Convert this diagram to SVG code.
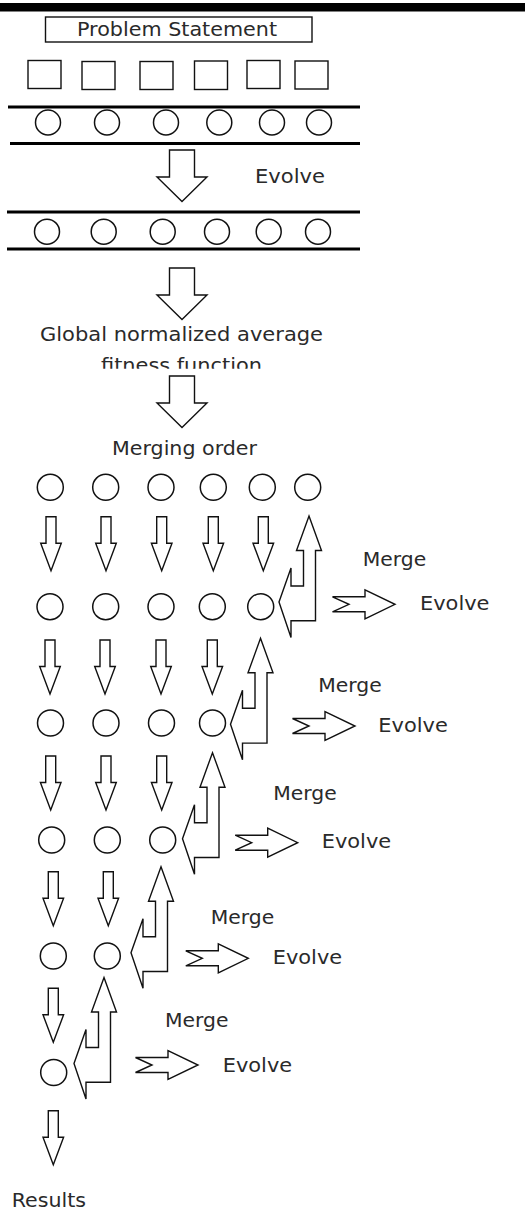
<svg xmlns="http://www.w3.org/2000/svg" xmlns:xlink="http://www.w3.org/1999/xlink" width="525" height="1210" viewBox="0 0 525 1210">
  <style>
    .t { font-family: "DejaVu Sans", "Liberation Sans", sans-serif; font-size: 19px; fill: #2a2a2a; }
    .o { fill: #fff; stroke: #111; stroke-width: 1.4; stroke-linejoin: miter; }
    .c { fill: #fff; stroke: #111; stroke-width: 1.5; }
    .band { stroke: #000; stroke-width: 3; }
  </style>
  <defs>
    <!-- small downward arrow, origin at top centre of the shaft -->
    <path id="dn" class="o" d="M-5,0 H5 V26.5 H10.3 L0,54 L-10.3,26.5 H-5 Z"/>
    <!-- large downward arrow, origin at top centre of the shaft -->
    <path id="big" class="o" d="M-12.5,0 H12.5 V27 H25 L0,51.5 L-25,27 H-12.5 Z"/>
    <!-- merge arrow: up arrow turning into a left-pointing head, origin at the upper tip -->
    <path id="mrg" class="o" d="M0,0 L12.5,34.5 H6.5 V104.8 H-18 V121.5 L-30,86 L-18,52 V70 H-5.5 V34.5 H-12.5 Z"/>
    <!-- notched right arrow, origin at the tip -->
    <path id="evo" class="o" d="M-62.5,-7.5 H-30 V-14.5 L0,0 L-30,14.5 V7.5 H-62.5 L-46,0 Z"/>
    <clipPath id="cutline">
      <rect x="0" y="345" width="525" height="23.8"/>
    </clipPath>
  </defs>

  <rect width="525" height="1210" fill="#fff"/>

  <!-- header bar -->
  <rect id="topbar" x="0" y="3" width="525" height="8.5" fill="#000"/>

  <g id="problem">
    <rect x="45.5" y="17" width="266.5" height="25" fill="none" stroke="#111" stroke-width="1.4"/>
    <text class="t" x="77" y="36" textLength="200" lengthAdjust="spacingAndGlyphs">Problem Statement</text>
  </g>

  <g id="subproblems" fill="none" stroke="#111" stroke-width="1.4">
    <rect x="28" y="60.5" width="33" height="28"/>
    <rect x="82" y="61.5" width="33" height="28"/>
    <rect x="140" y="61.5" width="33" height="28"/>
    <rect x="194.5" y="61" width="33" height="28.5"/>
    <rect x="247" y="60.5" width="33" height="28"/>
    <rect x="295" y="61" width="33" height="28"/>
  </g>

  <g id="population1">
    <line class="band" x1="8" y1="107" x2="360" y2="107"/>
    <line class="band" x1="10" y1="143.5" x2="360" y2="143.5"/>
    <circle class="c" cx="48" cy="122.5" r="12.5"/>
    <circle class="c" cx="107" cy="122.5" r="12.5"/>
    <circle class="c" cx="166" cy="122.5" r="12.5"/>
    <circle class="c" cx="219.3" cy="122.5" r="12.5"/>
    <circle class="c" cx="272" cy="122.5" r="12.5"/>
    <circle class="c" cx="319" cy="122.5" r="12.5"/>
  </g>

  <g id="evolve-label">
    <text class="t" x="255" y="183" textLength="70" lengthAdjust="spacingAndGlyphs">Evolve</text>
  </g>

  <g id="population2">
    <line class="band" x1="7" y1="212" x2="360" y2="212"/>
    <line class="band" x1="7" y1="249" x2="360" y2="249"/>
    <circle class="c" cx="47" cy="231.7" r="12.5"/>
    <circle class="c" cx="103.7" cy="231.7" r="12.5"/>
    <circle class="c" cx="162.7" cy="231.7" r="12.5"/>
    <circle class="c" cx="217" cy="231.7" r="12.5"/>
    <circle class="c" cx="268.7" cy="231.7" r="12.5"/>
    <circle class="c" cx="318" cy="231.7" r="12.5"/>
  </g>

  <g id="fitness">
    <text class="t" x="40" y="341" textLength="283" lengthAdjust="spacingAndGlyphs">Global normalized average</text>
    <text class="t" x="101" y="372" textLength="161" lengthAdjust="spacingAndGlyphs" clip-path="url(#cutline)">fitness function</text>
  </g>

  <g id="merging-order">
    <text class="t" x="112" y="455" textLength="145" lengthAdjust="spacingAndGlyphs">Merging order</text>
  </g>

  <g id="grid">
    <circle class="c" cx="50.3" cy="487.3" r="13"/>
    <circle class="c" cx="105.7" cy="487.3" r="13"/>
    <circle class="c" cx="161" cy="487.3" r="13"/>
    <circle class="c" cx="213.3" cy="487.3" r="13"/>
    <circle class="c" cx="262.3" cy="487.3" r="13"/>
    <circle class="c" cx="307.7" cy="487.3" r="13"/>

    <circle class="c" cx="50" cy="606.7" r="13"/>
    <circle class="c" cx="105.7" cy="606.7" r="13"/>
    <circle class="c" cx="161" cy="606.7" r="13"/>
    <circle class="c" cx="212.3" cy="606.7" r="13"/>
    <circle class="c" cx="260.7" cy="606.7" r="13"/>

    <circle class="c" cx="50.5" cy="723" r="13"/>
    <circle class="c" cx="106" cy="723" r="13"/>
    <circle class="c" cx="161.5" cy="723" r="13"/>
    <circle class="c" cx="212.5" cy="723" r="13"/>

    <circle class="c" cx="51.7" cy="840" r="13"/>
    <circle class="c" cx="107.3" cy="840" r="13"/>
    <circle class="c" cx="162.7" cy="840" r="13"/>

    <circle class="c" cx="53.3" cy="956" r="13"/>
    <circle class="c" cx="107.3" cy="956" r="13"/>

    <circle class="c" cx="53.7" cy="1072.5" r="13"/>
  </g>

  <g id="merge-labels">
    <text class="t" x="362.7" y="565.7" textLength="63.5" lengthAdjust="spacingAndGlyphs">Merge</text>
    <text class="t" x="420" y="610" textLength="69.5" lengthAdjust="spacingAndGlyphs">Evolve</text>
    <text class="t" x="318.3" y="691.7" textLength="63.5" lengthAdjust="spacingAndGlyphs">Merge</text>
    <text class="t" x="378.3" y="731.7" textLength="69.5" lengthAdjust="spacingAndGlyphs">Evolve</text>
    <text class="t" x="273.3" y="800" textLength="63.5" lengthAdjust="spacingAndGlyphs">Merge</text>
    <text class="t" x="321.7" y="848.3" textLength="69.5" lengthAdjust="spacingAndGlyphs">Evolve</text>
    <text class="t" x="210.7" y="924.3" textLength="63.5" lengthAdjust="spacingAndGlyphs">Merge</text>
    <text class="t" x="272.7" y="964" textLength="69.5" lengthAdjust="spacingAndGlyphs">Evolve</text>
    <text class="t" x="165" y="1026.7" textLength="63.5" lengthAdjust="spacingAndGlyphs">Merge</text>
    <text class="t" x="222.7" y="1071.7" textLength="69.5" lengthAdjust="spacingAndGlyphs">Evolve</text>
  </g>

  <g id="results">
    <text class="t" x="11.7" y="1206.7" textLength="74.3" lengthAdjust="spacingAndGlyphs">Results</text>
  </g>

  <g id="connectors">
    <!-- pipeline arrows -->
    <use xlink:href="#big" x="182" y="150"/>
    <use xlink:href="#big" x="182" y="268"/>
    <use xlink:href="#big" x="182" y="376"/>

    <!-- row 0 to row 1 -->
    <use xlink:href="#dn" x="51" y="516.7"/>
    <use xlink:href="#dn" x="106" y="516.7"/>
    <use xlink:href="#dn" x="161.7" y="516.7"/>
    <use xlink:href="#dn" x="213.3" y="516.7"/>
    <use xlink:href="#dn" x="263.3" y="516.7"/>
    <!-- row 1 to row 2 -->
    <use xlink:href="#dn" x="50" y="640"/>
    <use xlink:href="#dn" x="105" y="640"/>
    <use xlink:href="#dn" x="161" y="640"/>
    <use xlink:href="#dn" x="212.3" y="640"/>
    <!-- row 2 to row 3 -->
    <use xlink:href="#dn" x="50.7" y="756"/>
    <use xlink:href="#dn" x="106" y="756"/>
    <use xlink:href="#dn" x="161.7" y="756"/>
    <!-- row 3 to row 4 -->
    <use xlink:href="#dn" x="53.3" y="871.7"/>
    <use xlink:href="#dn" x="108.3" y="871.7"/>
    <!-- row 4 to row 5 -->
    <use xlink:href="#dn" x="53.3" y="988.3"/>
    <!-- final result -->
    <use xlink:href="#dn" x="53.3" y="1110.7"/>

    <!-- merge steps -->
    <use xlink:href="#mrg" x="309" y="516"/>
    <use xlink:href="#mrg" x="260.5" y="638.3"/>
    <use xlink:href="#mrg" x="212.5" y="752.7"/>
    <use xlink:href="#mrg" x="161" y="866.7"/>
    <use xlink:href="#mrg" x="104" y="977.5"/>

    <!-- evolve after merge -->
    <use xlink:href="#evo" x="395" y="604.3"/>
    <use xlink:href="#evo" x="355" y="726"/>
    <use xlink:href="#evo" x="297.7" y="842.7"/>
    <use xlink:href="#evo" x="248.3" y="958.3"/>
    <use xlink:href="#evo" x="198" y="1065"/>
  </g>
</svg>
